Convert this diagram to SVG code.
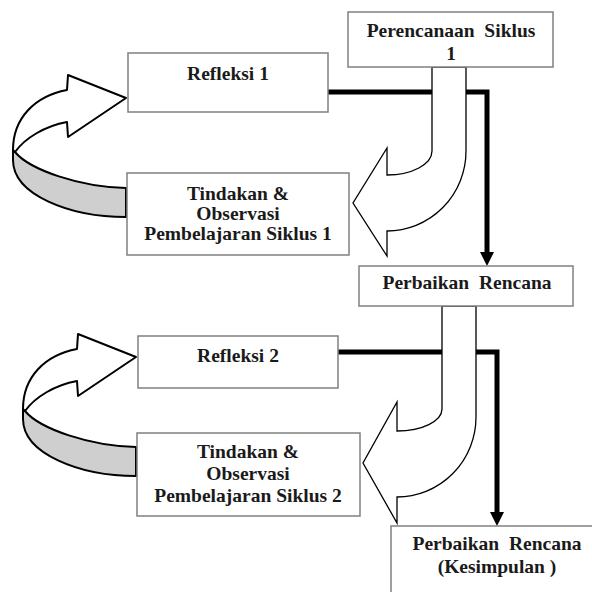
<svg xmlns="http://www.w3.org/2000/svg" width="592" height="592" viewBox="0 0 592 592">
<style>
.box{fill:#fff;stroke:#808080;stroke-width:1.5}
.t{font-family:"Liberation Serif","Times New Roman",serif;font-weight:bold;font-size:19.5px;fill:#1a1a1a;text-anchor:middle}
.thick{fill:none;stroke:#000;stroke-width:5}
.bent{fill:#fff;stroke:#000;stroke-width:1.3;stroke-linejoin:miter}
.rib{fill:#fff;stroke:#000;stroke-width:2;stroke-linejoin:round}
.ribg{fill:#cfcfcf;stroke:#000;stroke-width:2;stroke-linejoin:round}
</style>
<defs>
<g id="loop">
<path class="ribg" d="M15,152 C30,170 80,187 126,188 L126,217 C70,217 13,195 13,160 L13,150 Z"/>
<path class="rib" d="M67,90 L68,75 L126,98 L68,137 L67,122 C45,126 25,138 15,152 L13,150 C13,118 35,96 67,90 Z"/>
</g>
</defs>
<rect width="592" height="592" fill="#fff"/>
<g id="connectors">
<path class="thick" d="M328,92 H487 V253"/>
<polygon points="480,252 494,252 487,266" fill="#000"/>
<path class="thick" d="M338,352 H497 V513"/>
<polygon points="490,512 504,512 497,526" fill="#000"/>
<path class="bent" d="M432,67 L432,151 A45,24 0 0 1 387,175 L387,148 L353,203 L387,256 L387,231 A79,80 0 0 0 466,151 L466,67 Z"/>
<path class="bent" d="M442,306 L442,409 A45,22 0 0 1 397,431 L397,402 L363,463 L397,523 L397,497 A79,80 0 0 0 476,417 L476,306 Z"/>
<use href="#loop"/>
<use href="#loop" transform="translate(10,259)"/>
</g>
<g id="perencanaan">
<rect class="box" x="348" y="12" width="205" height="55"/>
<text class="t" x="451" y="37" xml:space="preserve">Perencanaan  Siklus</text>
<text class="t" x="451" y="60">1</text>
</g>
<g id="refleksi1">
<rect class="box" x="128" y="53" width="200" height="59"/>
<text class="t" x="228" y="80">Refleksi 1</text>
</g>
<g id="tindakan1">
<rect class="box" x="127" y="173" width="222" height="82"/>
<text class="t" x="238" y="200">Tindakan &amp;</text>
<text class="t" x="238" y="220">Observasi</text>
<text class="t" x="238" y="240">Pembelajaran Siklus 1</text>
</g>
<g id="perbaikan1">
<rect class="box" x="359" y="266" width="214" height="40"/>
<text class="t" x="467" y="289" xml:space="preserve">Perbaikan  Rencana</text>
</g>
<g id="refleksi2">
<rect class="box" x="138" y="336" width="200" height="52"/>
<text class="t" x="238" y="362">Refleksi 2</text>
</g>
<g id="tindakan2">
<rect class="box" x="137" y="433" width="223" height="83"/>
<text class="t" x="248" y="458">Tindakan &amp;</text>
<text class="t" x="248" y="480">Observasi</text>
<text class="t" x="248" y="502">Pembelajaran Siklus 2</text>
</g>
<g id="kesimpulan">
<rect class="box" x="391" y="526" width="215" height="80"/>
<text class="t" x="497" y="550" xml:space="preserve">Perbaikan  Rencana</text>
<text class="t" x="497" y="573">(Kesimpulan )</text>
</g>
</svg>
